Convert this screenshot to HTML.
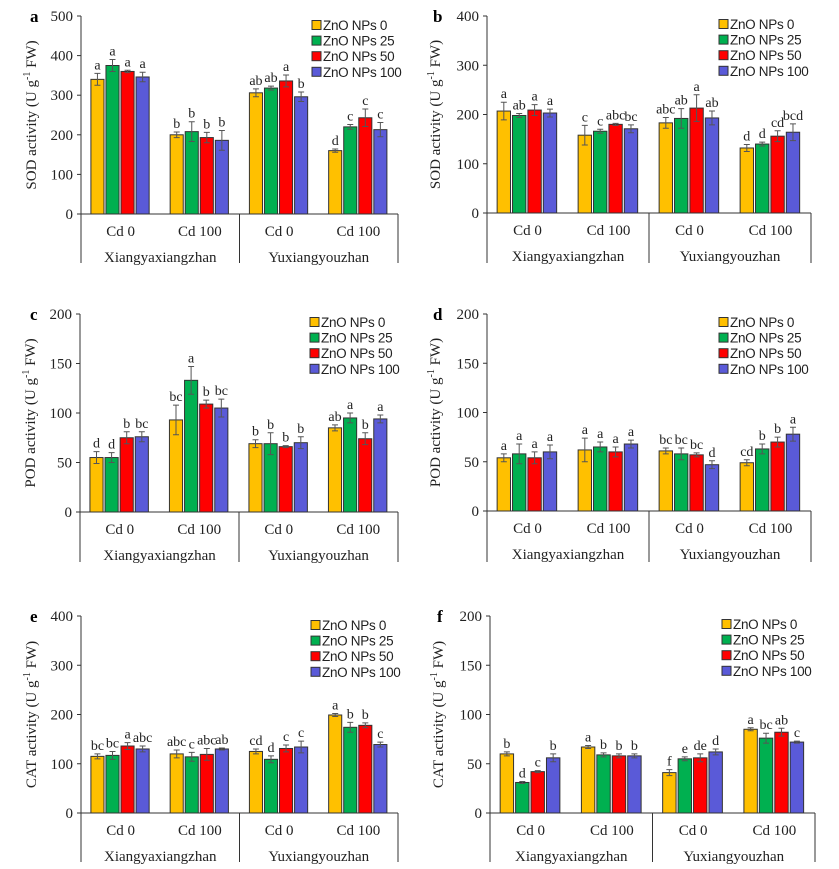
<!DOCTYPE html>
<html><head><meta charset="utf-8"><style>
html,body{margin:0;padding:0;background:#fff}
svg{display:block;font-family:"Liberation Serif",serif}
</style></head><body>
<svg id="fig" width="839" height="869" viewBox="0 0 839 869" xmlns="http://www.w3.org/2000/svg"></svg>
<script>
const groups = ["Cd 0","Cd 100","Cd 0","Cd 100"];
const cultivars = ["Xiangyaxiangzhan","Yuxiangyouzhan"];
const seriesNames = ["ZnO NPs 0","ZnO NPs 25","ZnO NPs 50","ZnO NPs 100"];
const seriesColors = ["#FFC000","#00B050","#FF0000","#5A5AD8"];

const aValues = [[340,375,360,346],[200,208,193,186],[306,318,336,296],[160,220,243,213]];
const aErrors = [[15,15,3,12],[7,25,13,25],[10,5,15,12],[4,6,22,18]];
const aLetters = [["a","a","a","a"],["b","b","b","b"],["ab","ab","a","b"],["d","c","c","c"]];
const aTicks = [0,100,200,300,400,500];

const bValues = [[207,198,209,203],[158,166,180,171],[183,192,213,193],[132,140,156,164]];
const bErrors = [[18,4,11,8],[20,4,2,8],[11,20,27,14],[7,4,11,17]];
const bLetters = [["a","ab","a","a"],["c","c","abc","bc"],["abc","ab","a","ab"],["d","d","cd","bcd"]];
const bTicks = [0,100,200,300,400];

const cValues = [[55,55,75,76],[93,133,109,105],[69,69,66,70],[85,95,74,94]];
const cErrors = [[6,5,6,5],[15,14,4,9],[4,11,1,6],[3,5,6,4]];
const cLetters = [["d","d","b","bc"],["bc","a","b","bc"],["b","b","b","b"],["ab","a","b","a"]];
const cTicks = [0,50,100,150,200];

const dValues = [[54,58,54,60],[62,65,60,68],[61,58,57,47],[49,63,70,78]];
const dErrors = [[4,10,6,7],[12,5,5,4],[3,6,2,4],[3,5,5,7]];
const dLetters = [["a","a","a","a"],["a","a","a","a"],["bc","bc","bc","d"],["cd","b","b","a"]];
const dTicks = [0,50,100,150,200];

const eValues = [[115,117,136,130],[120,114,119,130],[125,109,131,134],[199,174,178,139]];
const eErrors = [[5,8,7,6],[8,9,12,2],[5,7,7,12],[3,10,5,5]];
const eLetters = [["bc","bc","a","abc"],["abc","c","abc","ab"],["cd","d","c","c"],["a","b","b","c"]];
const eTicks = [0,100,200,300,400];

const fValues = [[60,31,42,56],[67,59,58,58],[41,55,56,62],[85,76,82,72]];
const fErrors = [[2,1,1,4],[1.5,2,2,2],[3,2,4,3],[1.5,5,4,1]];
const fLetters = [["b","d","c","b"],["a","b","b","b"],["f","e","de","d"],["a","bc","ab","c"]];
const fTicks = [0,50,100,150,200];

const panels = [
 {id:"a",title:"SOD activity",values:aValues,errors:aErrors,letters:aLetters,ticks:aTicks,ax:81,top:16,zero:214,right:398,bottom:263,lx:312,ly:25,tx:36,px:30},
 {id:"b",title:"SOD activity",values:bValues,errors:bErrors,letters:bLetters,ticks:bTicks,ax:487,top:16,zero:213,right:811,bottom:263,lx:719,ly:24,tx:440,px:433},
 {id:"c",title:"POD activity",values:cValues,errors:cErrors,letters:cLetters,ticks:cTicks,ax:80,top:314,zero:512,right:398,bottom:562,lx:310,ly:322,tx:35,px:30},
 {id:"d",title:"POD activity",values:dValues,errors:dErrors,letters:dLetters,ticks:dTicks,ax:487,top:314,zero:511,right:811,bottom:562,lx:719,ly:322,tx:440,px:433},
 {id:"e",title:"CAT activity",values:eValues,errors:eErrors,letters:eLetters,ticks:eTicks,ax:81,top:616,zero:813,right:398,bottom:862,lx:311,ly:625,tx:36,px:30},
 {id:"f",title:"CAT activity",values:fValues,errors:fErrors,letters:fLetters,ticks:fTicks,ax:490,top:616,zero:813,right:815,bottom:862,lx:722,ly:624,tx:443,px:437}
];
const NS="http://www.w3.org/2000/svg";
const svg=document.getElementById("fig");
function mk(tag,attrs,parent,text){const e=document.createElementNS(NS,tag);for(const k in attrs)e.setAttribute(k,attrs[k]);if(text!==undefined)e.textContent=text;parent.appendChild(e);return e;}

panels.forEach(p=>{
  const g=mk("g",{},svg);
  
  
  const maxV=p.ticks[p.ticks.length-1];
  const y=v=>p.zero-(v/maxV)*(p.zero-p.top);
  const G=(p.right-p.ax)/4;
  const bx=(gi,si)=>p.ax+gi*G+0.125*G+si*0.19*G;
  const bw=0.165*G;
  const pl=mk("text",{x:p.px,y:p.top+6,"font-size":17,"font-weight":"bold"},g,p.id);
  
  
  const ya=mk("line",{x1:p.ax,y1:p.top,x2:p.ax,y2:p.bottom,stroke:"#333","stroke-width":1},g);
  
  
  const xa=mk("line",{x1:p.ax,y1:p.zero,x2:p.right,y2:p.zero,stroke:"#333","stroke-width":1},g);
  
  
  [p.ax+2*G,p.right].forEach(sx=>{
    const s=mk("line",{x1:sx,y1:p.zero,x2:sx,y2:p.bottom,stroke:"#333","stroke-width":1},g);
    
    
  });
  p.ticks.forEach(t=>{
    const tk=mk("line",{x1:p.ax-4,y1:y(t),x2:p.ax,y2:y(t),stroke:"#333"},g);
    
    
    const tl=mk("text",{x:p.ax-8,y:y(t)+5,"font-size":15,"text-anchor":"end",fill:"#222"},g,String(t));
    
    
  });
  const yt=mk("text",{x:0,y:0,"font-size":15,"text-anchor":"middle",fill:"#222",transform:`translate(${p.tx},${(p.top+p.zero)/2}) rotate(-90)`},g);
  
  
  yt.appendChild(document.createTextNode(p.title+" (U g"));
  mk("tspan",{dy:-6,"font-size":10},yt,"-1");
  mk("tspan",{dy:6},yt," FW)");
  groups.forEach((gl,gi)=>{
    const t=mk("text",{x:p.ax+gi*G+G/2,y:p.zero+22,"font-size":15,"text-anchor":"middle",fill:"#222"},g,gl);
    
    
  });
  cultivars.forEach((c,ci)=>{
    const t=mk("text",{x:p.ax+ci*2*G+G,y:p.zero+48,"font-size":15,"text-anchor":"middle",fill:"#222"},g,c);
    
    
  });
  p.values.forEach((row,gi)=>{
    row.forEach((v,si)=>{
      const x=bx(gi,si);
      const r=mk("rect",{x:x,y:y(v),width:bw,height:p.zero-y(v),fill:seriesColors[si],stroke:"#333","stroke-width":1},g);
      
      
      const e=p.errors[gi][si];
      const cx=x+bw/2;
      const eb=mk("path",{d:`M${cx},${y(v+e)}V${y(v-e)}M${cx-3},${y(v+e)}H${cx+3}M${cx-3},${y(v-e)}H${cx+3}`,stroke:"#555","stroke-width":1,fill:"none"},g);
      
      
      const lt=mk("text",{x:cx,y:y(v+e)-4,"font-size":14,"text-anchor":"middle",fill:"#222"},g,p.letters[gi][si]);
      
      
    });
  });
  seriesNames.forEach((n,si)=>{
    const cy=p.ly+si*15.6;
    const sq=mk("rect",{x:p.lx,y:cy-4.5,width:9,height:9,fill:seriesColors[si],stroke:"#333","stroke-width":1},g);
    
    
    const lt=mk("text",{x:p.lx+11,y:cy+5,"font-size":13.5,"letter-spacing":"-0.3",fill:"#222","font-family":"Liberation Sans, sans-serif"},g,n);
    
    
  });
});
</script>
</body></html>
